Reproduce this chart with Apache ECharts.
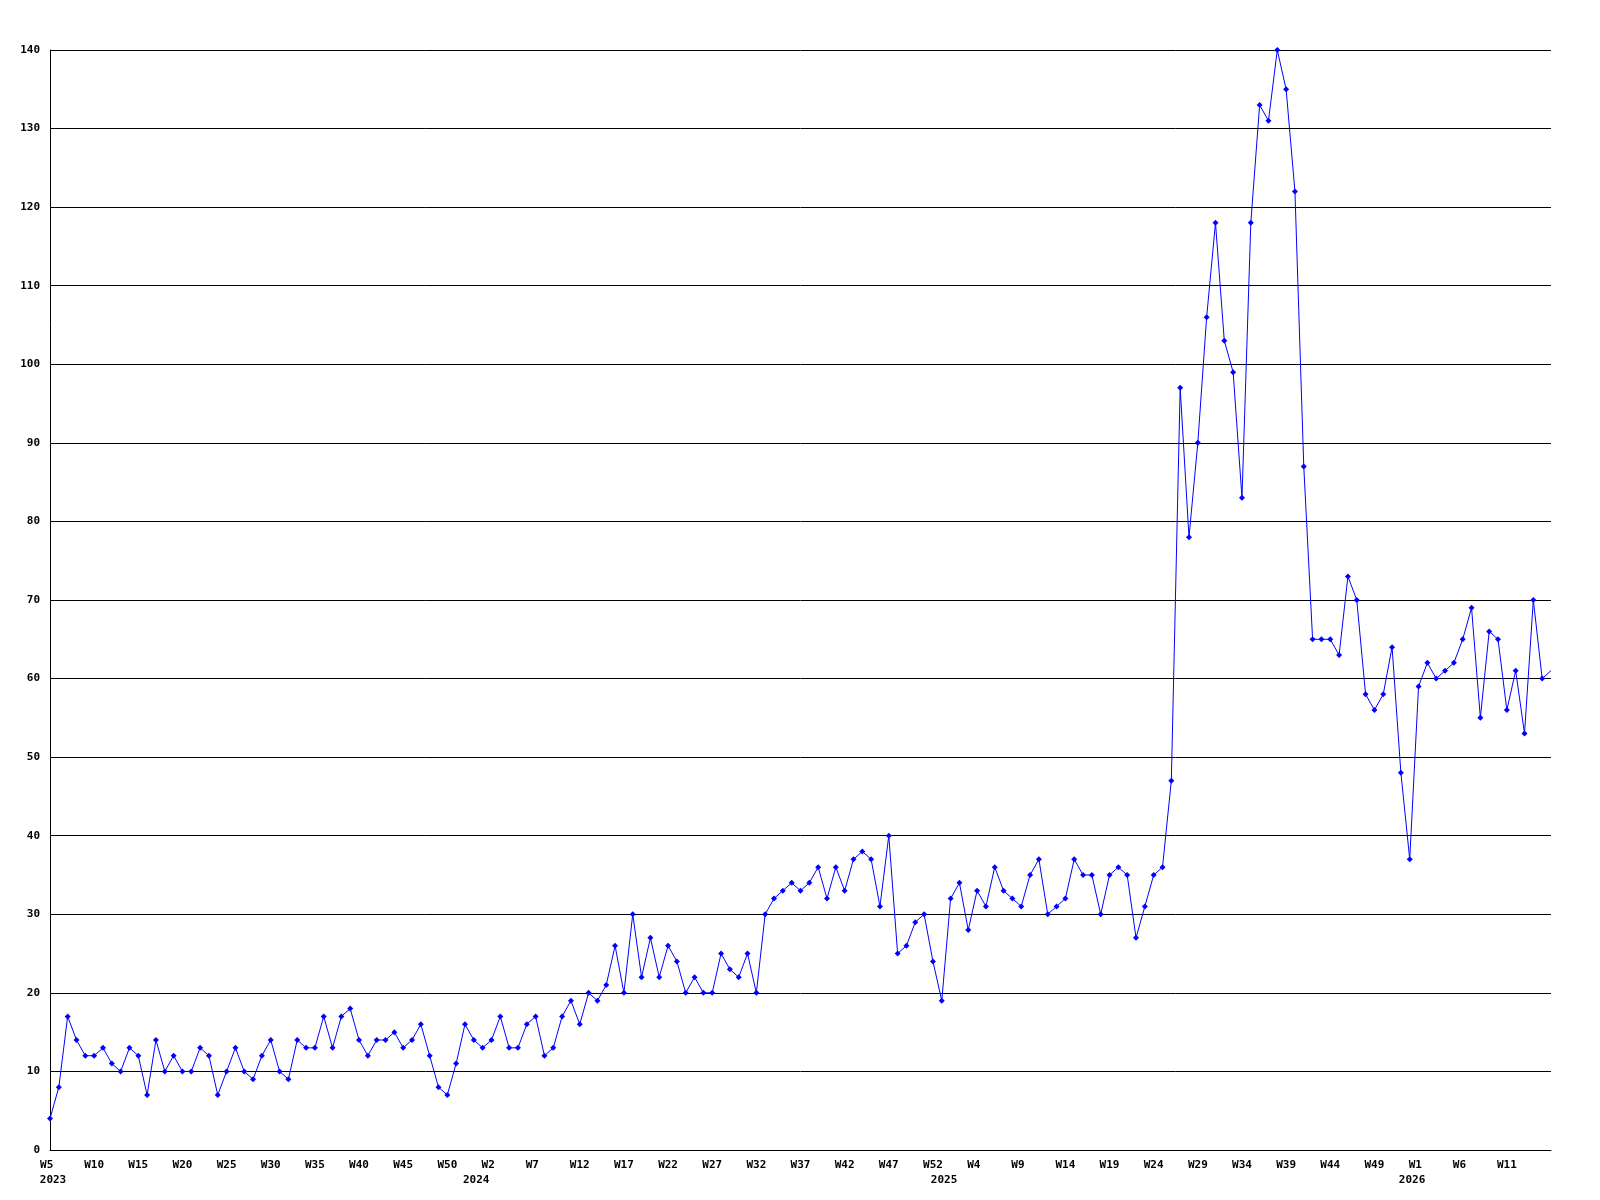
<!DOCTYPE html>
<html>
<head>
<meta charset="utf-8">
<title>Weekly chart</title>
<script src="https://cdn.jsdelivr.net/npm/echarts@6/dist/echarts.min.js"></script>
<style>
  html, body { margin: 0; padding: 0; background: #fff; }
  #chart { width: 1600px; height: 1200px; }
</style>
</head>
<body>
<div id="chart"></div>
<script>
// first week shown, and how many weeks the source counts per year
const startYear = 2023
const startWeek = 5
const weeksPerYear = 53

// weekly values (2023 W5 .. 2026 W16)
const values2023 = [4, 8, 17, 14, 12, 12, 13, 11, 10, 13, 12, 7, 14, 10, 12, 10, 10, 13, 12, 7,
  10, 13, 10, 9, 12, 14, 10, 9, 14, 13, 13, 17, 13, 17, 18, 14, 12, 14, 14, 15,
  13, 14, 16, 12, 8, 7, 11, 16, 14]
const values2024 = [13, 14, 17, 13, 13, 16, 17, 12, 13, 17, 19, 16, 20, 19, 21, 26, 20, 30, 22, 27,
  22, 26, 24, 20, 22, 20, 20, 25, 23, 22, 25, 20, 30, 32, 33, 34, 33, 34, 36, 32,
  36, 33, 37, 38, 37, 31, 40, 25, 26, 29, 30, 24, 19]
const values2025 = [32, 34, 28, 33, 31, 36, 33, 32, 31, 35, 37, 30, 31, 32, 37, 35, 35, 30, 35, 36,
  35, 27, 31, 35, 36, 47, 97, 78, 90, 106, 118, 103, 99, 83, 118, 133, 131, 140, 135, 122,
  87, 65, 65, 65, 63, 73, 70, 58, 56, 58, 64, 48, 37]
const values2026 = [59, 62, 60, 61, 62, 65, 69, 55, 66, 65, 56, 61, 53, 70, 60, 61]

const values = [].concat(values2023, values2024, values2025, values2026)

// category labels: week number plus year
const weeks = []
const years = []
let y = startYear, w = startWeek
for (let i = 0; i < values.length; i++) {
  weeks.push('W' + w)
  years.push(y)
  w++
  if (w > weeksPerYear) { w = 1; y++ }
}

const labelFont = {
  color: '#000',
  fontFamily: 'DejaVu Sans Mono',
  fontWeight: 'bold',
  fontSize: 11
}

const chart = echarts.init(document.getElementById('chart'))
chart.setOption({
  animation: false,
  backgroundColor: '#fff',
  grid: { left: 50, right: 49, top: 50, bottom: 50 },
  xAxis: [{
    // week labels every 5th week
    type: 'category',
    boundaryGap: false,
    data: weeks,
    axisLine: { show: true, lineStyle: { color: '#000', width: 1 } },
    axisTick: { show: false },
    splitLine: { show: false },
    axisLabel: Object.assign({}, labelFont, {
      interval: function (idx) {
        return idx % 5 === 0 && idx < values.length - 1
      },
      margin: 7,
      lineHeight: 16,
      formatter: function (val) {
        // text is drawn from a 3-char box, so short labels sit a bit left
        return val.length < 3 ? val + ' ' : val
      }
    })
  }, {
    // year labels near where each year begins
    type: 'category',
    position: 'bottom',
    boundaryGap: false,
    data: years,
    axisLine: { show: false },
    axisTick: { show: false },
    splitLine: { show: false },
    axisLabel: Object.assign({}, labelFont, {
      interval: function (idx) {
        return idx === 0 || weeks[idx] === 'W1'
      },
      margin: 22,
      lineHeight: 16,
      formatter: function (val, idx) {
        return idx === 0 ? '{a|' + val + '}' : '{b|' + val + '}'
      },
      rich: {
        a: Object.assign({}, labelFont, { padding: [0, 0, 0, 6] }),
        b: Object.assign({}, labelFont, { padding: [0, 13, 0, 0] })
      }
    })
  }],
  yAxis: {
    type: 'value',
    min: 0,
    max: 140,
    interval: 10,
    axisLine: { show: true, lineStyle: { color: '#000', width: 1 } },
    axisTick: { show: false },
    splitLine: { show: true, lineStyle: { color: '#000', width: 1 } },
    axisLabel: Object.assign({}, labelFont, { margin: 10 })
  },
  series: [{
    type: 'line',
    xAxisIndex: 0,
    data: values,
    showSymbol: true,
    showAllSymbol: true,
    symbol: 'diamond',
    symbolSize: function (val, params) {
      // last point sits on the plot edge without a marker
      return params.dataIndex === values.length - 1 ? 0 : 6
    },
    lineStyle: { color: '#0000ff', width: 1 },
    itemStyle: { color: '#0000ff' },
    emphasis: { disabled: true }
  }]
})
</script>
</body>
</html>
